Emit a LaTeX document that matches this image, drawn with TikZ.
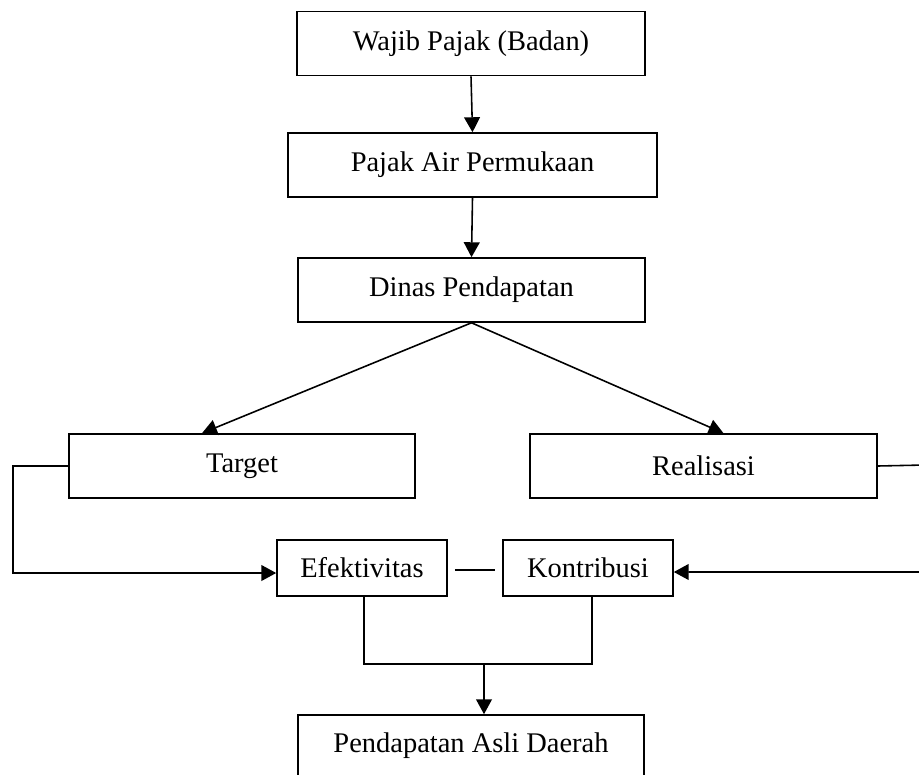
\documentclass[tikz,border=0pt]{standalone}
\usepackage{fontspec}
\setmainfont{Liberation Serif}
\usetikzlibrary{arrows.meta,calc}
\begin{document}
\begin{tikzpicture}[x=0.02cm,y=-0.02cm,line width=0.9pt,
		kotak/.style={draw,minimum width=#1*0.02cm,minimum height=64*0.02cm,inner sep=0pt,font=\fontsize{16.2}{19}\selectfont},
		kecil/.style={draw,minimum width=170*0.02cm,minimum height=56*0.02cm,inner sep=0pt,font=\fontsize{16.2}{19}\selectfont},
		panah/.style={-{Triangle[length=8.5pt,width=9pt]}}]
		\useasboundingbox (0,0) rectangle (919,774);
		\clip (0,0) rectangle (919,774);

		\node[kotak=348] (wajib) at (471,43.5) {Wajib Pajak (Badan)};
		\node[kotak=369] (pajak) at (472.5,165) {Pajak Air Permukaan};
		\node[kotak=347] (dinas) at (471.5,290) {Dinas Pendapatan};
		\node[kotak=346] (target) at (242,466) {Target};
		\node[kotak=347] (realisasi) at (703.5,466) {Realisasi};
		\node[kecil] (efek) at (362,568) {Efektivitas};
		\node[kecil] (kontri) at (588,568) {Kontribusi};
		\node[kotak=346,minimum height=62*0.02cm] (pad) at (471,746) {Pendapatan Asli Daerah};

		\coordinate (lt) at (13,466);
		\coordinate (lb) at (13,573);
		\coordinate (rt) at (925,465);
		\coordinate (rb) at (925,572);
		\coordinate (bl) at (364,664);
		\coordinate (br) at (592,664);
		\coordinate (bm) at (484,664);

		\draw[panah] (wajib.south) -- (pajak.north);
		\draw[panah] (pajak.south) -- (dinas.north);
		\draw[panah] (dinas.south) -- ($(target.north)+(-40,0)$);
		\draw[panah] (dinas.south) -- ($(realisasi.north)+(20,0)$);
		\draw[panah] (target.west) -- (lt) -- (lb) -- (lb -| efek.west);
		\draw[panah] (realisasi.east) -- (rt) -- (rb) -- (rb -| kontri.east);
		\draw ($(efek.east)+(7,2)$) -- ($(kontri.west)+(-7,2)$);
		\draw (efek.south -| bl) -- (bl) -- (br) -- (kontri.south -| br);
		\draw[panah] (bm) -- (bm |- pad.north);
	\end{tikzpicture}
\end{document}
